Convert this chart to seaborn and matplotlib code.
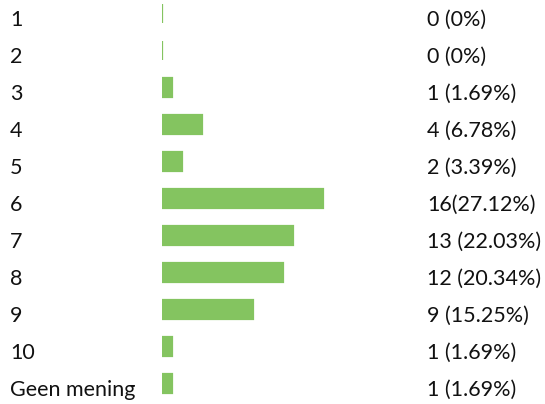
import matplotlib
matplotlib.use("Agg")
import matplotlib.pyplot as plt
import matplotlib.transforms as mtransforms
import seaborn as sns
import pandas as pd

categories = ["1", "2", "3", "4", "5", "6", "7", "8", "9", "10", "Geen mening"]
counts = [0, 0, 1, 4, 2, 16, 13, 12, 9, 1, 1]
value_labels = ["0 (0%)", "0 (0%)", "1 (1.69%)", "4 (6.78%)", "2 (3.39%)",
                "16(27.12%)", "13 (22.03%)", "12 (20.34%)", "9 (15.25%)",
                "1 (1.69%)", "1 (1.69%)"]

bar_color = "#84C460"
text_color = "#111111"

sns.set_theme(style="white")
plt.rcParams["font.family"] = ["Lato", "DejaVu Sans"]

W, H, DPI = 545, 404, 100
fig = plt.figure(figsize=(W / DPI, H / DPI), dpi=DPI)

# axes spans from the bar baseline to the right edge, full height
x0_px = 162
ax = fig.add_axes([x0_px / W, 0, 1 - x0_px / W, 1])

df = pd.DataFrame({"category": categories, "count": counts})
sns.barplot(data=df, x="count", y="category", orient="h", color=bar_color,
            saturation=1, width=0.514, edgecolor=bar_color, linewidth=1.6,
            ax=ax)

px_per_unit = 10.06
ax.set_xlim(0, (W - x0_px) / px_per_unit)
row_px, first_px = 37.0, 13.5
ax.set_ylim((H - first_px) / row_px, -first_px / row_px)

for s in ax.spines.values():
    s.set_visible(False)
ax.set_xticks([])
ax.set_yticks([])
ax.set_xlabel("")
ax.set_ylabel("")

# text baselines sit a little below the bar centres
shift = mtransforms.ScaledTranslation(0, -12.5 / DPI, fig.dpi_scale_trans)
trans = mtransforms.blended_transform_factory(fig.transFigure, ax.transData) + shift
for i, (cat, txt) in enumerate(zip(categories, value_labels)):
    ax.text(10 / W, i, cat, transform=trans, ha="left", va="baseline",
            fontsize=15.5, color=text_color, clip_on=False)
    ax.text(427 / W, i, txt, transform=trans, ha="left", va="baseline",
            fontsize=15.5, color=text_color, clip_on=False)

fig.savefig("out.png", dpi=DPI)
